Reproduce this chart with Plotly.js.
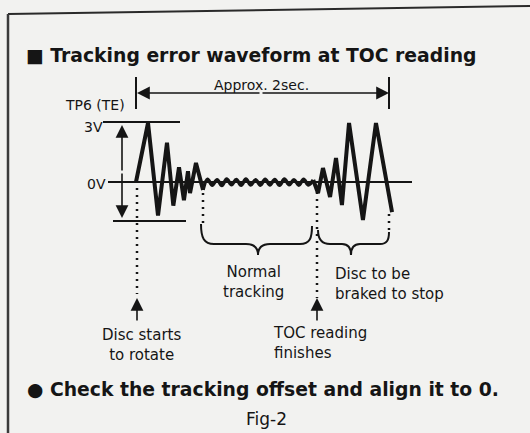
<!DOCTYPE html>
<html>
<head>
<meta charset="utf-8">
<script src="https://cdn.plot.ly/plotly-3.0.1.min.js"></script>
<style>html,body{margin:0;padding:0;background:#f2f2f0;}#chart{width:530px;height:433px;}</style>
</head>
<body>
<div id="chart"></div>
<script>
// Waveform data: time (s) vs tracking-error voltage (V)
// spin-up burst
const startT = [0.000, 0.095, 0.174, 0.245, 0.295, 0.340, 0.379, 0.411, 0.427, 0.474, 0.530];
const startV = [0.00, 3.00, -1.70, 2.00, -1.20, 0.75, -0.92, 0.55, -0.56, 0.97, -0.40];
// normal tracking ripple
const rippleT = [0.530, 0.565, 0.603, 0.641, 0.679, 0.717, 0.755, 0.793, 0.831, 0.869, 0.907, 0.945, 0.983,
  1.021, 1.059, 1.097, 1.135, 1.173, 1.211, 1.249, 1.287, 1.325, 1.363, 1.401];
const rippleV = [-0.40, 0.14, -0.16, 0.12, -0.18, 0.15, -0.14, 0.13, -0.17, 0.15, -0.15, 0.12, -0.16,
  0.14, -0.15, 0.13, -0.17, 0.15, -0.14, 0.12, -0.16, 0.14, -0.15, 0.10];
// braking burst
const brakeT = [1.401, 1.439, 1.478, 1.534, 1.581, 1.628, 1.684, 1.794, 1.897, 2.024];
const brakeV = [0.10, -0.56, 0.71, -0.76, 1.22, -1.17, 3.00, -1.93, 3.00, -1.53];
const levelLabels = ['3V', '0V'];
const levelValues = [3, 0];
const spanSeconds = 2;

// pixel -> data helpers for layout decorations
const T = px => (px - 136) / 126.5;
const V = py => (182 - py) / 19.67;
const ink = '#151515';
const font = 'DejaVu Sans, Open Sans, sans-serif';

const shapes = [];
function seg(x0, y0, x1, y1, w, dash) {
  shapes.push({type: 'line', xref: 'x', yref: 'y', x0: T(x0), y0: V(y0), x1: T(x1), y1: V(y1),
    line: {color: ink, width: w || 2, dash: dash || 'solid'}});
}
function pathPx(pts) {
  return pts.map(p => typeof p === 'string' ? p : T(p[0]).toFixed(4) + ',' + V(p[1]).toFixed(4)).join(' ');
}
// frame
shapes.push({type: 'line', xref: 'paper', yref: 'paper', x0: 8/530, y0: 1 - 14/433, x1: 1, y1: 1 - 6/433, line: {color: '#2a2a2a', width: 2}});
shapes.push({type: 'line', xref: 'paper', yref: 'paper', x0: 8/530, y0: 1 - 14/433, x1: 8/530, y1: 0, line: {color: '#3a3a3a', width: 2.5}});
// reference levels
seg(103, 122, 180, 122, 2);
shapes.push({type: 'line', xref: 'x', yref: 'y', x0: T(108), x1: T(412), y0: levelValues[1], y1: levelValues[1], line: {color: ink, width: 2}});
seg(113, 221, 186, 221, 2);
// time-span bars
shapes.push({type: 'line', xref: 'x', yref: 'y', x0: 0, x1: 0, y0: V(77), y1: V(109), line: {color: ink, width: 2}});
shapes.push({type: 'line', xref: 'x', yref: 'y', x0: spanSeconds, x1: spanSeconds, y0: V(77), y1: V(109), line: {color: ink, width: 2}});
// dotted markers
seg(137, 188, 137, 294, 2.5, '2px,5px');
seg(203, 193, 203, 224, 2.5, '2px,5px');
seg(317, 192, 317, 298, 2.5, '2px,5px');
seg(389, 214, 389, 232, 2.5, '2px,5px');
// braces
shapes.push({type: 'path', xref: 'x', yref: 'y', line: {color: ink, width: 2},
  path: pathPx(['M', [201, 224], 'C', [201, 238], [204, 244], [214, 244], 'L', [246, 244], 'C', [254, 244], [258, 248], [258, 255],
    'C', [258, 248], [262, 244], [270, 244], 'L', [300, 244], 'C', [310, 244], [312, 238], [312, 226]])});
shapes.push({type: 'path', xref: 'x', yref: 'y', line: {color: ink, width: 2},
  path: pathPx(['M', [318, 230], 'C', [318, 240], [322, 244], [330, 244], 'L', [342, 244], 'C', [348, 244], [351, 248], [351, 255],
    'C', [351, 248], [354, 244], [360, 244], 'L', [380, 244], 'C', [387, 244], [389, 240], [389, 232]])});

function txt(text, px, py, opts) {
  return Object.assign({text: text, x: T(px), y: V(py), xref: 'x', yref: 'y', showarrow: false,
    xanchor: 'center', yanchor: 'middle', borderpad: 0, font: {family: font, size: 15, color: ink}}, opts || {});
}
function arrow(x0, y0, x1, y1) {
  return {x: T(x1), y: V(y1), ax: T(x0), ay: V(y0), xref: 'x', yref: 'y', axref: 'x', ayref: 'y',
    showarrow: true, arrowhead: 2, arrowsize: 1.6, arrowwidth: 1.6,
    arrowcolor: ink, arrowside: 'end', text: ''};
}

const annotations = [
  txt('■ Tracking error waveform at TOC reading', 25, 55, {xanchor: 'left', font: {family: font, size: 18.8, color: ink, weight: 700}}),
  txt('Approx. 2sec.', 261, 85, {font: {family: font, size: 14, color: ink}}),
  txt('TP6 (TE)', 126, 105, {xanchor: 'right', font: {family: font, size: 14, color: ink}}),
  {text: levelLabels[0], x: T(104), y: levelValues[0], xref: 'x', yref: 'y', showarrow: false, xanchor: 'right', yanchor: 'middle', yshift: -4, borderpad: 0, font: {family: font, size: 14, color: ink}},
  {text: levelLabels[1], x: T(107), y: levelValues[1], xref: 'x', yref: 'y', showarrow: false, xanchor: 'right', yanchor: 'middle', yshift: -2, borderpad: 0, font: {family: font, size: 14, color: ink}},
  txt('Normal<br>tracking', 253, 282),
  txt('Disc to be<br>braked to stop', 334, 284, {xanchor: 'left', align: 'left'}),
  txt('Disc starts<br>to rotate', 141, 345),
  txt('TOC reading<br>finishes', 272, 343, {xanchor: 'left', align: 'left'}),
  txt('● Check the tracking offset and align it to 0.', 26, 389, {xanchor: 'left', font: {family: font, size: 18.8, color: ink, weight: 700}}),
  txt('Fig-2', 266, 419, {font: {family: font, size: 17, color: ink}}),
  arrow(261, 93, 389, 93),
  arrow(261, 93, 137, 93),
  arrow(122, 172, 122, 125),
  arrow(122, 172, 122, 218),
  arrow(137, 322, 137, 298),
  arrow(317, 322, 317, 298)
];

const waveLine = {color: ink, width: 4, shape: 'linear'};
const data = [
  {x: startT, y: startV, type: 'scatter', mode: 'lines', line: waveLine, hoverinfo: 'skip'},
  {x: rippleT, y: rippleV, type: 'scatter', mode: 'lines', line: {color: ink, width: 3.5, shape: 'spline', smoothing: 1}, hoverinfo: 'skip'},
  {x: brakeT, y: brakeV, type: 'scatter', mode: 'lines', line: waveLine, hoverinfo: 'skip'}
];

const layout = {
  width: 530, height: 433,
  margin: {l: 0, r: 0, t: 0, b: 0},
  paper_bgcolor: '#f2f2f0', plot_bgcolor: '#f2f2f0',
  showlegend: false,
  xaxis: {range: [T(0), T(530)], visible: false, fixedrange: true},
  yaxis: {range: [V(433), V(0)], visible: false, fixedrange: true},
  shapes: shapes,
  annotations: annotations
};
Plotly.newPlot('chart', data, layout, {staticPlot: true, displayModeBar: false});
</script>
</body>
</html>
